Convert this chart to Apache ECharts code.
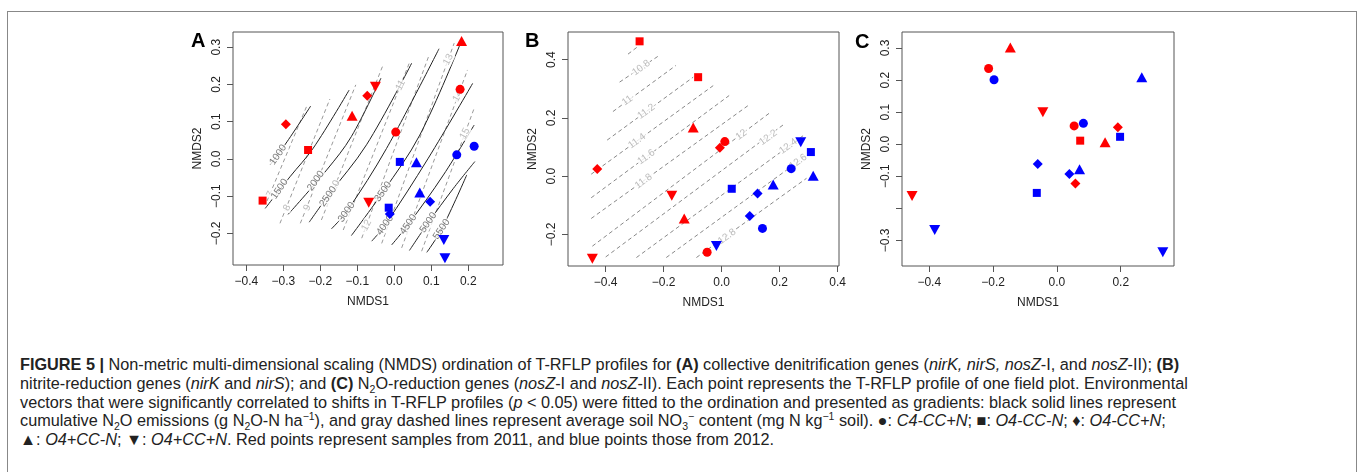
<!DOCTYPE html>
<html>
<head>
<meta charset="utf-8">
<script src="https://cdn.jsdelivr.net/npm/echarts@6/dist/echarts.min.js"></script>
<style>
body { margin: 0; background: #fff; font-family: 'Liberation Sans', Arial, sans-serif; }
#frame { position: absolute; left: 7px; top: 11px; width: 1348px; height: 480px; border: 1px solid #888; border-bottom: none; }
#chart { position: absolute; left: 0; top: 0; width: 1358px; height: 330px; }
#caption { position: absolute; left: 20px; top: 355px; font-size: 16.25px; line-height: 18.8px; color: #222; white-space: nowrap; }
#caption sub, #caption sup { font-size: 10.5px; line-height: 0; }
</style>
</head>
<body>
<div id="frame"></div>
<div id="chart"></div>
<div id="caption">
<b>FIGURE 5 |</b> Non-metric multi-dimensional scaling (NMDS) ordination of T-RFLP profiles for <b>(A)</b> collective denitrification genes (<i>nirK, nirS, nosZ</i>-I, and <i>nosZ</i>-II); <b>(B)</b><br>
nitrite-reduction genes (<i>nirK</i> and <i>nirS</i>); and <b>(C)</b> N<sub>2</sub>O-reduction genes (<i>nosZ</i>-I and <i>nosZ</i>-II). Each point represents the T-RFLP profile of one field plot. Environmental<br>
vectors that were significantly correlated to shifts in T-RFLP profiles (<i>p</i> &lt; 0.05) were fitted to the ordination and presented as gradients: black solid lines represent<br>
cumulative N<sub>2</sub>O emissions (g N<sub>2</sub>O-N ha<sup>−1</sup>), and gray dashed lines represent average soil NO<sub>3</sub><sup>−</sup> content (mg N kg<sup>−1</sup> soil). ●: <i>C4-CC+N</i>; ■: <i>O4-CC-N</i>; ♦: <i>O4-CC+N</i>;<br>
▲: <i>O4+CC-N</i>; ▼: <i>O4+CC+N</i>. Red points represent samples from 2011, and blue points those from 2012.
</div>
<script>
// treatments in symbol order: circle, square, diamond, triangle up, triangle down
const treatments = ['C4-CC+N', 'O4-CC-N', 'O4-CC+N', 'O4+CC-N', 'O4+CC+N'];
const years = ['2011', '2012'];

// panel A: collective denitrification genes  [NMDS1, NMDS2, treatment]
const a2011 = [
	[0.182, 0.317, 3], [0.178, 0.187, 0], [-0.293, 0.093, 2], [-0.233, 0.024, 1], [-0.356, -0.112, 1],
	[-0.073, 0.170, 2], [-0.051, 0.194, 4], [-0.114, 0.116, 3], [0.004, 0.072, 0], [-0.069, -0.118, 4]
];
const a2012 = [
	[0.015, -0.008, 1], [0.060, -0.009, 3], [0.069, -0.090, 3], [0.097, -0.115, 2], [-0.015, -0.131, 1],
	[-0.012, -0.148, 2], [0.169, 0.011, 0], [0.216, 0.034, 0], [0.134, -0.218, 4], [0.137, -0.267, 4]
];
// N2O contours (black solid)
const aN2OLevels = [1000, 1500, 2000, 2500, 3000, 3500, 4000, 4500, 5000, 5500];
const aN2OLines = [
	[[-0.335, -0.015], [-0.290, 0.046], [-0.226, 0.142]],
	[[-0.349, -0.133], [-0.282, -0.048], [-0.219, 0.029], [-0.122, 0.185]],
	[[-0.287, -0.149], [-0.183, -0.030], [-0.116, 0.060], [-0.036, 0.217]],
	[[-0.230, -0.170], [-0.179, -0.099], [-0.075, 0.038], [0.047, 0.257]],
	[[-0.170, -0.188], [-0.129, -0.142], [-0.021, 0.028], [0.121, 0.296]],
	[[-0.116, -0.206], [-0.030, -0.088], [0.069, 0.064], [0.178, 0.308]],
	[[-0.061, -0.221], [-0.025, -0.178], [0.092, 0.002], [0.212, 0.203]],
	[[-0.007, -0.231], [0.038, -0.176], [0.133, -0.043], [0.216, 0.091]],
	[[0.041, -0.246], [0.092, -0.171], [0.160, -0.079], [0.218, -0.007]],
	[[0.088, -0.251], [0.128, -0.189], [0.196, -0.043]]
];
const aN2OLabelAt = [
	[-0.314, 0.011], [-0.310, -0.081], [-0.212, -0.059], [-0.179, -0.101], [-0.129, -0.143],
	[-0.030, -0.088], [-0.025, -0.178], [0.038, -0.176], [0.092, -0.171], [0.128, -0.189]
];
// NO3 contours (gray dashed)
const aNO3Levels = [7, 8, 9, 10, 11, 12, 13, 14, 15];
const aNO3Lines = [
	[[-0.344, -0.113], [-0.237, 0.141]],
	[[-0.309, -0.173], [-0.174, 0.161]],
	[[-0.254, -0.173], [-0.104, 0.199]],
	[[-0.197, -0.164], [-0.032, 0.248]],
	[[-0.138, -0.191], [0.042, 0.261]],
	[[-0.088, -0.213], [0.095, 0.281]],
	[[-0.034, -0.227], [0.162, 0.311]],
	[[0.020, -0.239], [0.198, 0.239]],
	[[0.074, -0.248], [0.216, 0.136]]
];
const aNO3LabelAt = [
	[-0.335, -0.095], [-0.290, -0.131], [-0.235, -0.131], [-0.160, -0.072], [0.017, 0.198],
	[-0.075, -0.178], [0.146, 0.267], [0.172, 0.169], [0.191, 0.068]
];

// panel B: nitrite-reduction genes
const b2011 = [
	[-0.283, 0.463, 1], [-0.081, 0.340, 1], [-0.098, 0.167, 3], [0.011, 0.119, 0], [-0.006, 0.098, 2],
	[-0.429, 0.025, 2], [-0.172, -0.067, 4], [-0.129, -0.145, 3], [-0.050, -0.261, 0], [-0.446, -0.283, 4]
];
const b2012 = [
	[0.273, 0.117, 4], [0.308, 0.083, 1], [0.240, 0.026, 0], [0.316, 0.002, 3], [0.178, -0.028, 3],
	[0.035, -0.043, 1], [0.124, -0.059, 2], [0.097, -0.136, 2], [0.141, -0.179, 0], [-0.018, -0.239, 4]
];
const bNO3Levels = ['', '10.8', '11', '11.2', '11.4', '11.6', '11.8', '12', '12.2', '12.4', '12.6', '12.8'];
const bNO3Lines = [
	[[-0.323, 0.419], [-0.285, 0.448]],
	[[-0.352, 0.323], [-0.219, 0.412]],
	[[-0.375, 0.222], [-0.158, 0.380]],
	[[-0.395, 0.124], [-0.098, 0.340]],
	[[-0.450, 0.007], [-0.029, 0.311]],
	[[-0.450, -0.074], [0.026, 0.277]],
	[[-0.450, -0.145], [0.092, 0.243]],
	[[-0.446, -0.240], [0.164, 0.216]],
	[[-0.400, -0.277], [0.212, 0.176]],
	[[-0.294, -0.279], [0.281, 0.139]],
	[[-0.191, -0.279], [0.304, 0.079]],
	[[-0.087, -0.279], [0.293, -0.007]]
];
const bNO3LabelAt = [
	null, [-0.277, 0.372], [-0.325, 0.260], [-0.260, 0.222], [-0.292, 0.121], [-0.260, 0.066],
	[-0.269, -0.017], [0.068, 0.142], [0.161, 0.133], [0.230, 0.103], [0.264, 0.050], [0.019, -0.207]
];

// panel C: N2O-reduction genes
const c2011 = [
	[-0.146, 0.302, 3], [-0.214, 0.236, 0], [-0.044, 0.100, 4], [0.054, 0.057, 0], [0.191, 0.053, 2],
	[0.073, 0.011, 1], [0.151, 0.006, 3], [0.058, -0.123, 2], [-0.454, -0.162, 4]
];
const c2012 = [
	[-0.197, 0.201, 0], [0.266, 0.209, 3], [0.083, 0.065, 0], [0.198, 0.023, 1], [-0.060, -0.062, 2],
	[0.039, -0.093, 2], [0.071, -0.078, 3], [-0.063, -0.152, 1], [-0.383, -0.268, 4], [0.332, -0.337, 4]
];

// axis ticks
const aXTicks = [-0.4, -0.3, -0.2, -0.1, 0, 0.1, 0.2];
const aYTicks = [-0.2, -0.1, 0, 0.1, 0.2, 0.3];
const bXTicks = [-0.4, -0.2, 0, 0.2, 0.4];
const bYTicks = [-0.2, 0, 0.2, 0.4];
const cXTicks = [-0.4, -0.2, 0, 0.2];
const cYTicks = [-0.3, -0.2, -0.1, 0, 0.1, 0.2, 0.3];
const cYLabels = [-0.3, -0.1, 0, 0.1, 0.2, 0.3];

const yearColors = ['#ff0000', '#0000ff'];
const symbols = ['circle', 'rect', 'diamond', 'triangle', 'triangle'];
const symbolSizes = [9, 8, 10, [11, 10], [11, 10]];

let myChart = echarts.init(document.getElementById('chart'));

const fmt = v => v.toFixed(1).replace('-', '\u2212');

function xAxisOf(i, min, max, ticks) {
	return {
		type: 'value', gridIndex: i, min: min, max: max,
		name: 'NMDS1', nameLocation: 'middle', nameGap: 31,
		nameTextStyle: { fontSize: 12, color: '#222' },
		axisLine: { show: false, onZero: false },
		axisTick: { show: true, length: 6, lineStyle: { color: '#555' }, customValues: ticks },
		axisLabel: { fontSize: 12, color: '#222', margin: 11, formatter: fmt, customValues: ticks },
		splitLine: { show: false }
	};
}
function yAxisOf(i, min, max, ticks, labels) {
	return {
		type: 'value', gridIndex: i, min: min, max: max,
		name: 'NMDS2', nameLocation: 'middle', nameGap: 29,
		nameTextStyle: { fontSize: 12, color: '#222' },
		axisLine: { show: false, onZero: false },
		axisTick: { show: true, length: 6, lineStyle: { color: '#555' }, customValues: ticks },
		axisLabel: { fontSize: 12, color: '#222', margin: 10, rotate: 90, formatter: fmt, customValues: labels || ticks },
		splitLine: { show: false }
	};
}

function pointSeries(i, pts, year) {
	return treatments.map((t, k) => ({
		name: t + ' ' + years[year],
		type: 'scatter', xAxisIndex: i, yAxisIndex: i, z: 5,
		symbol: symbols[k], symbolSize: symbolSizes[k], symbolRotate: k === 4 ? 180 : 0,
		itemStyle: { color: yearColors[year], opacity: 1 },
		data: pts.filter(p => p[2] === k).map(p => [p[0], p[1]])
	}));
}

function contourSeries(i, lines, levels, labelAt, style) {
	let out = lines.map((pts, k) => ({
		type: 'line', xAxisIndex: i, yAxisIndex: i, z: 2, silent: true,
		showSymbol: false, symbol: 'none', smooth: pts.length > 2 ? 0.35 : false,
		lineStyle: { color: style.line, width: 1, type: style.dash },
		data: pts
	}));
	out.push({
		type: 'scatter', xAxisIndex: i, yAxisIndex: i, z: 3, silent: true,
		symbolSize: 1, itemStyle: { color: 'rgba(0,0,0,0)' },
		label: {
			show: true, position: 'inside', rotate: style.rotate,
			fontSize: 10, color: style.text, backgroundColor: '#fff', padding: [0, 1],
			formatter: p => p.value[2]
		},
		data: labelAt.map((p, k) => p ? [p[0], p[1], String(levels[k])] : null).filter(Boolean)
	});
	return out;
}

const blackStyle = { line: '#222', dash: 'solid', text: '#555', rotate: 55 };
const grayStyle = { line: '#999', dash: [4, 3], text: '#aaa', rotate: 63 };
const grayStyleB = { line: '#888', dash: [4, 3], text: '#aaa', rotate: 36 };

let option = {
	animation: false,
	grid: [
		{ left: 233, top: 32, width: 270, height: 233, show: true, borderColor: '#555', borderWidth: 1 },
		{ left: 568, top: 32, width: 271, height: 234, show: true, borderColor: '#555', borderWidth: 1 },
		{ left: 902, top: 32, width: 272, height: 234, show: true, borderColor: '#555', borderWidth: 1 }
	],
	xAxis: [
		xAxisOf(0, -0.436, 0.294, aXTicks),
		xAxisOf(1, -0.530, 0.405, bXTicks),
		xAxisOf(2, -0.4855, 0.367, cXTicks)
	],
	yAxis: [
		yAxisOf(0, -0.285, 0.341, aYTicks),
		yAxisOf(1, -0.308, 0.495, bYTicks),
		yAxisOf(2, -0.380, 0.350, cYTicks, cYLabels)
	],
	graphic: [
		{ type: 'text', left: 191, top: 31, style: { text: 'A', font: 'bold 20px "Liberation Sans", Arial', fill: '#000' } },
		{ type: 'text', left: 525, top: 31, style: { text: 'B', font: 'bold 20px "Liberation Sans", Arial', fill: '#000' } },
		{ type: 'text', left: 855, top: 32, style: { text: 'C', font: 'bold 20px "Liberation Sans", Arial', fill: '#000' } }
	],
	series: [].concat(
		contourSeries(0, aNO3Lines, aNO3Levels, aNO3LabelAt, grayStyle),
		contourSeries(0, aN2OLines, aN2OLevels, aN2OLabelAt, blackStyle),
		pointSeries(0, a2011, 0), pointSeries(0, a2012, 1),
		contourSeries(1, bNO3Lines, bNO3Levels, bNO3LabelAt, grayStyleB),
		pointSeries(1, b2011, 0), pointSeries(1, b2012, 1),
		pointSeries(2, c2011, 0), pointSeries(2, c2012, 1)
	)
};
myChart.setOption(option);
</script>
</body>
</html>
